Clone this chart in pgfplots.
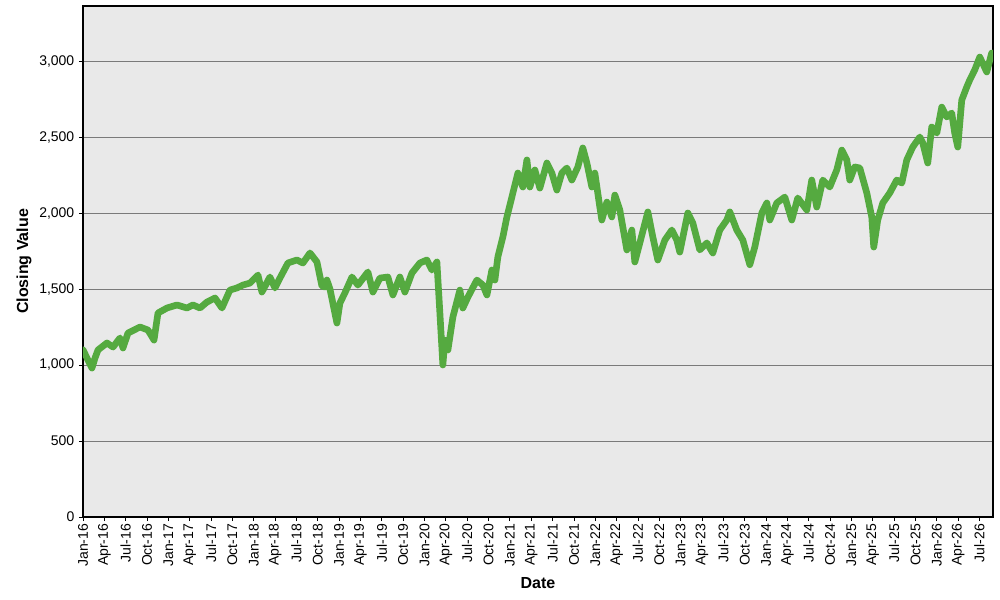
\documentclass[border=0pt]{standalone}
\usepackage{pgfplots}
\pgfplotsset{compat=1.18}
\usepackage{fontspec}
\setmainfont{Liberation Sans}
\definecolor{bgc}{HTML}{E9E9E9}
\definecolor{linec}{HTML}{55AA40}
\definecolor{gridc}{HTML}{7A7A7A}
\begin{document}
\begin{tikzpicture}
\begin{axis}[
  scale only axis,
  width=682.5pt, height=383.25pt,
  xmin=0, xmax=127.9,
  ymin=0, ymax=3362,
  axis background/.style={fill=bgc},
  axis line style={black, line width=0.8pt},
  xtick={0,3,...,126},
  xticklabels={Jan-16,Apr-16,Jul-16,Oct-16,Jan-17,Apr-17,Jul-17,Oct-17,Jan-18,Apr-18,Jul-18,Oct-18,Jan-19,Apr-19,Jul-19,Oct-19,Jan-20,Apr-20,Jul-20,Oct-20,Jan-21,Apr-21,Jul-21,Oct-21,Jan-22,Apr-22,Jul-22,Oct-22,Jan-23,Apr-23,Jul-23,Oct-23,Jan-24,Apr-24,Jul-24,Oct-24,Jan-25,Apr-25,Jul-25,Oct-25,Jan-26,Apr-26,Jul-26},
  xticklabel style={rotate=90, anchor=east, font=\fontsize{10.5}{12}\selectfont, inner sep=2pt},
  ytick={0,500,1000,1500,2000,2500,3000},
  yticklabel style={font=\fontsize{10.5}{12}\selectfont},
  /pgf/number format/assume math mode=true,
  /pgf/number format/1000 sep={,},
  scaled y ticks=false,
  tick align=outside,
  xtick pos=left, ytick pos=left,
  major tick length=3pt,
  tick style={black, line width=0.6pt},
  ymajorgrids,
  grid style={gridc, line width=0.7pt},
  xlabel={\bfseries Date},
  ylabel={\bfseries Closing Value},
  label style={font=\fontsize{12}{14}\selectfont},
  xlabel style={yshift=-2.5pt},
  ylabel style={yshift=-1pt},
]
\addplot[linec, line width=5pt, line join=round, line cap=round] coordinates {
(0,1100) (0.56,1046) (1.26,980) (1.69,1046) (2.11,1099) (3.37,1145) (4.22,1118) (5.20,1178) (5.62,1112) (6.32,1210)
(8.01,1250) (9.13,1230) (9.98,1164) (10.54,1342) (11.80,1375) (13.21,1395) (14.61,1375) (15.46,1395) (16.44,1375) (17.42,1414)
(18.55,1441) (19.53,1375) (20.65,1493) (21.64,1507) (22.48,1526) (23.46,1539) (24.59,1592) (25.15,1480) (26.27,1579) (26.98,1507)
(27.68,1572) (28.80,1671) (30.07,1691) (30.91,1671) (31.90,1737) (32.88,1678) (33.58,1520) (34.0,1513) (34.28,1559) (34.71,1500)
(35.69,1276) (36.11,1408) (36.81,1474) (37.80,1579) (38.64,1526) (40.04,1612) (40.75,1480) (41.73,1572) (42.85,1579) (43.56,1461)
(44.54,1579) (45.24,1480) (46.23,1605) (47.35,1671) (48.33,1691) (49.04,1625) (49.74,1678) (50.16,1342) (50.58,1000) (50.86,1164)
(51.29,1099) (51.99,1316) (52.97,1493) (53.39,1375) (54.10,1447) (55.36,1559) (56.20,1526) (56.77,1461) (57.47,1625) (57.89,1559)
(58.31,1711) (59.01,1842) (59.58,1974) (60.42,2132) (61.12,2263) (61.82,2171) (62.39,2349) (62.81,2171) (63.51,2283) (64.21,2164)
(65.20,2329) (65.90,2263) (66.60,2151) (67.30,2263) (68.01,2296) (68.71,2217) (69.55,2303) (70.25,2428) (70.82,2329) (71.52,2171)
(71.94,2263) (72.64,2039) (72.92,1954) (73.63,2072) (74.33,1974) (74.75,2118) (75.45,2020) (76.44,1757) (77.14,1888) (77.56,1678)
(78.26,1803) (79.39,2007) (80.09,1842) (80.79,1691) (81.78,1822) (82.76,1888) (83.46,1822) (83.88,1743) (85.01,2000) (85.71,1934)
(86.69,1757) (87.68,1803) (88.52,1737) (89.50,1888) (90.49,1954) (90.91,2007) (91.89,1888) (92.74,1822) (93.72,1660) (94.42,1776)
(95.41,2000) (96.11,2066) (96.53,1954) (97.51,2066) (98.64,2105) (99.62,1954) (100.46,2099) (101.73,2020) (102.43,2217) (103.13,2039)
(103.98,2217) (104.96,2171) (105.94,2283) (106.65,2414) (107.35,2349) (107.77,2217) (108.47,2303) (109.18,2296) (110.16,2132) (110.86,1974)
(111.14,1776) (111.70,1954) (112.41,2066) (113.39,2132) (114.37,2217) (115.08,2197) (115.78,2349) (116.62,2434) (117.61,2500) (118.03,2461)
(118.73,2329) (119.29,2566) (120.00,2526) (120.70,2697) (121.40,2632) (122.10,2658) (122.52,2526) (122.95,2434) (123.51,2743) (124.21,2829)
(124.63,2875) (125.33,2941) (126.04,3026) (127.02,2928) (127.72,3053)
};
\end{axis}
\pgfresetboundingbox
\path[use as bounding box] (-62.25pt,-62.25pt) rectangle (687.75pt,387.75pt);
\end{tikzpicture}
\end{document}
